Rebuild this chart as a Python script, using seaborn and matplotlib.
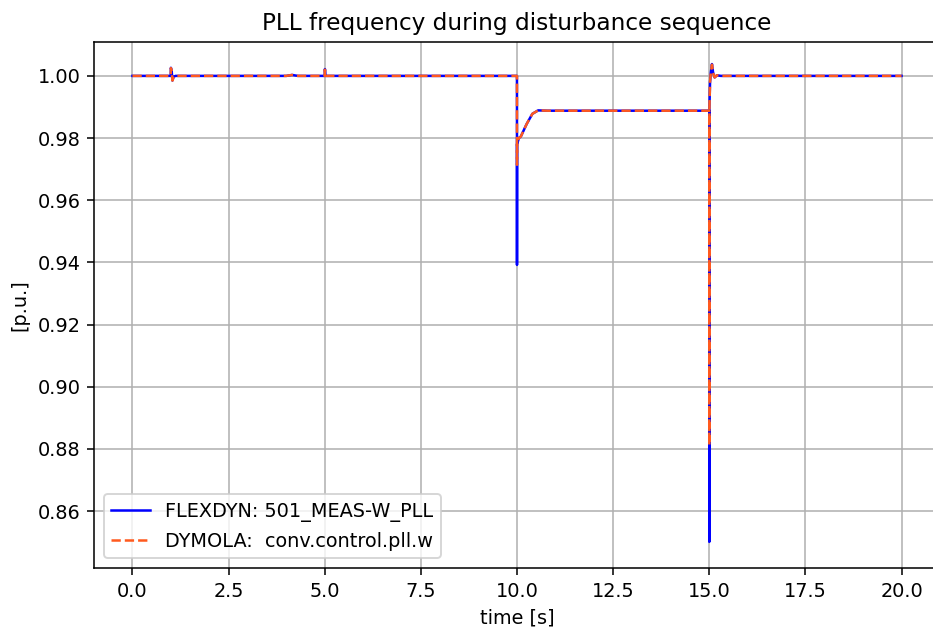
import matplotlib
matplotlib.use("Agg")
import matplotlib.pyplot as plt
import seaborn as sns
import pandas as pd

# FLEXDYN series (time [s], PLL frequency [p.u.])
flex_t = [0.0, 0.995, 1.0, 1.02, 1.04, 1.07, 1.12, 4.0, 4.15, 4.3, 5.0, 5.005, 5.02,
          9.999, 10.0, 10.002, 10.05, 10.1, 10.25, 10.4, 10.55, 10.8,
          15.0, 15.001, 15.004, 15.02, 15.04, 15.07, 15.1, 15.14, 15.2, 15.3, 20.0]
flex_w = [1.0, 1.0, 1.0026, 1.0015, 0.9985, 0.9997, 1.0, 1.0, 1.0003, 1.0, 1.0, 1.0022, 1.0,
          1.0, 0.9392, 0.978, 0.9800, 0.9805, 0.9845, 0.9878, 0.9889, 0.9888,
          0.9888, 0.8501, 0.990, 0.998, 1.001, 1.0038, 1.001, 0.9995, 1.0002, 1.0, 1.0]

# DYMOLA series
dym_t = [0.0, 0.995, 1.0, 1.02, 1.04, 1.07, 1.12, 4.0, 4.15, 4.3, 5.0, 5.005, 5.02,
         9.999, 10.0, 10.002, 10.05, 10.1, 10.25, 10.4, 10.55, 10.8,
         15.0, 15.001, 15.004, 15.02, 15.04, 15.07, 15.1, 15.14, 15.2, 15.3, 20.0]
dym_w = [1.0, 1.0, 1.0025, 1.0015, 0.9985, 0.9997, 1.0, 1.0, 1.0003, 1.0, 1.0, 1.0020, 1.0,
         1.0, 0.9714, 0.978, 0.9800, 0.9805, 0.9845, 0.9878, 0.9889, 0.9888,
         0.9888, 0.8812, 0.990, 0.998, 1.001, 1.0036, 1.001, 0.9995, 1.0002, 1.0, 1.0]

labels = ["FLEXDYN: 501_MEAS-W_PLL", "DYMOLA:  conv.control.pll.w"]
x_ticks = [0.0, 2.5, 5.0, 7.5, 10.0, 12.5, 15.0, 17.5, 20.0]
y_ticks = [0.86, 0.88, 0.90, 0.92, 0.94, 0.96, 0.98, 1.00]

df_flex = pd.DataFrame({"t": flex_t, "w": flex_w})
df_dym = pd.DataFrame({"t": dym_t, "w": dym_w})

DPI = 139
fig = plt.figure(figsize=(933 / DPI, 628 / DPI), dpi=DPI)
ax = fig.add_axes([94 / 933, 60 / 628, (940 - 94) / 933, (568 - 42) / 628])

sns.lineplot(data=df_flex, x="t", y="w", ax=ax, color="#0000ff", linewidth=1.3,
             estimator=None, sort=False, label=labels[0])
sns.lineplot(data=df_dym, x="t", y="w", ax=ax, color="#ff5a1e", linewidth=1.3,
             linestyle="--", estimator=None, sort=False, label=labels[1])

ax.set_xlim(-1.0, 21.0)
ax.set_ylim(0.8417, 1.0109)
ax.set_xticks(x_ticks)
ax.set_xticklabels([f"{v:.1f}" for v in x_ticks])
ax.set_yticks(y_ticks)
ax.set_yticklabels([f"{v:.2f}" for v in y_ticks])
ax.grid(True, color="#b0b0b0", linewidth=0.8)
ax.set_axisbelow(True)
ax.set_xlabel("time [s]")
ax.set_ylabel("[p.u.]")
ax.set_title("PLL frequency during disturbance sequence", fontsize=12)
ax.legend(loc="lower left")

fig.savefig("out.png", dpi=DPI)
